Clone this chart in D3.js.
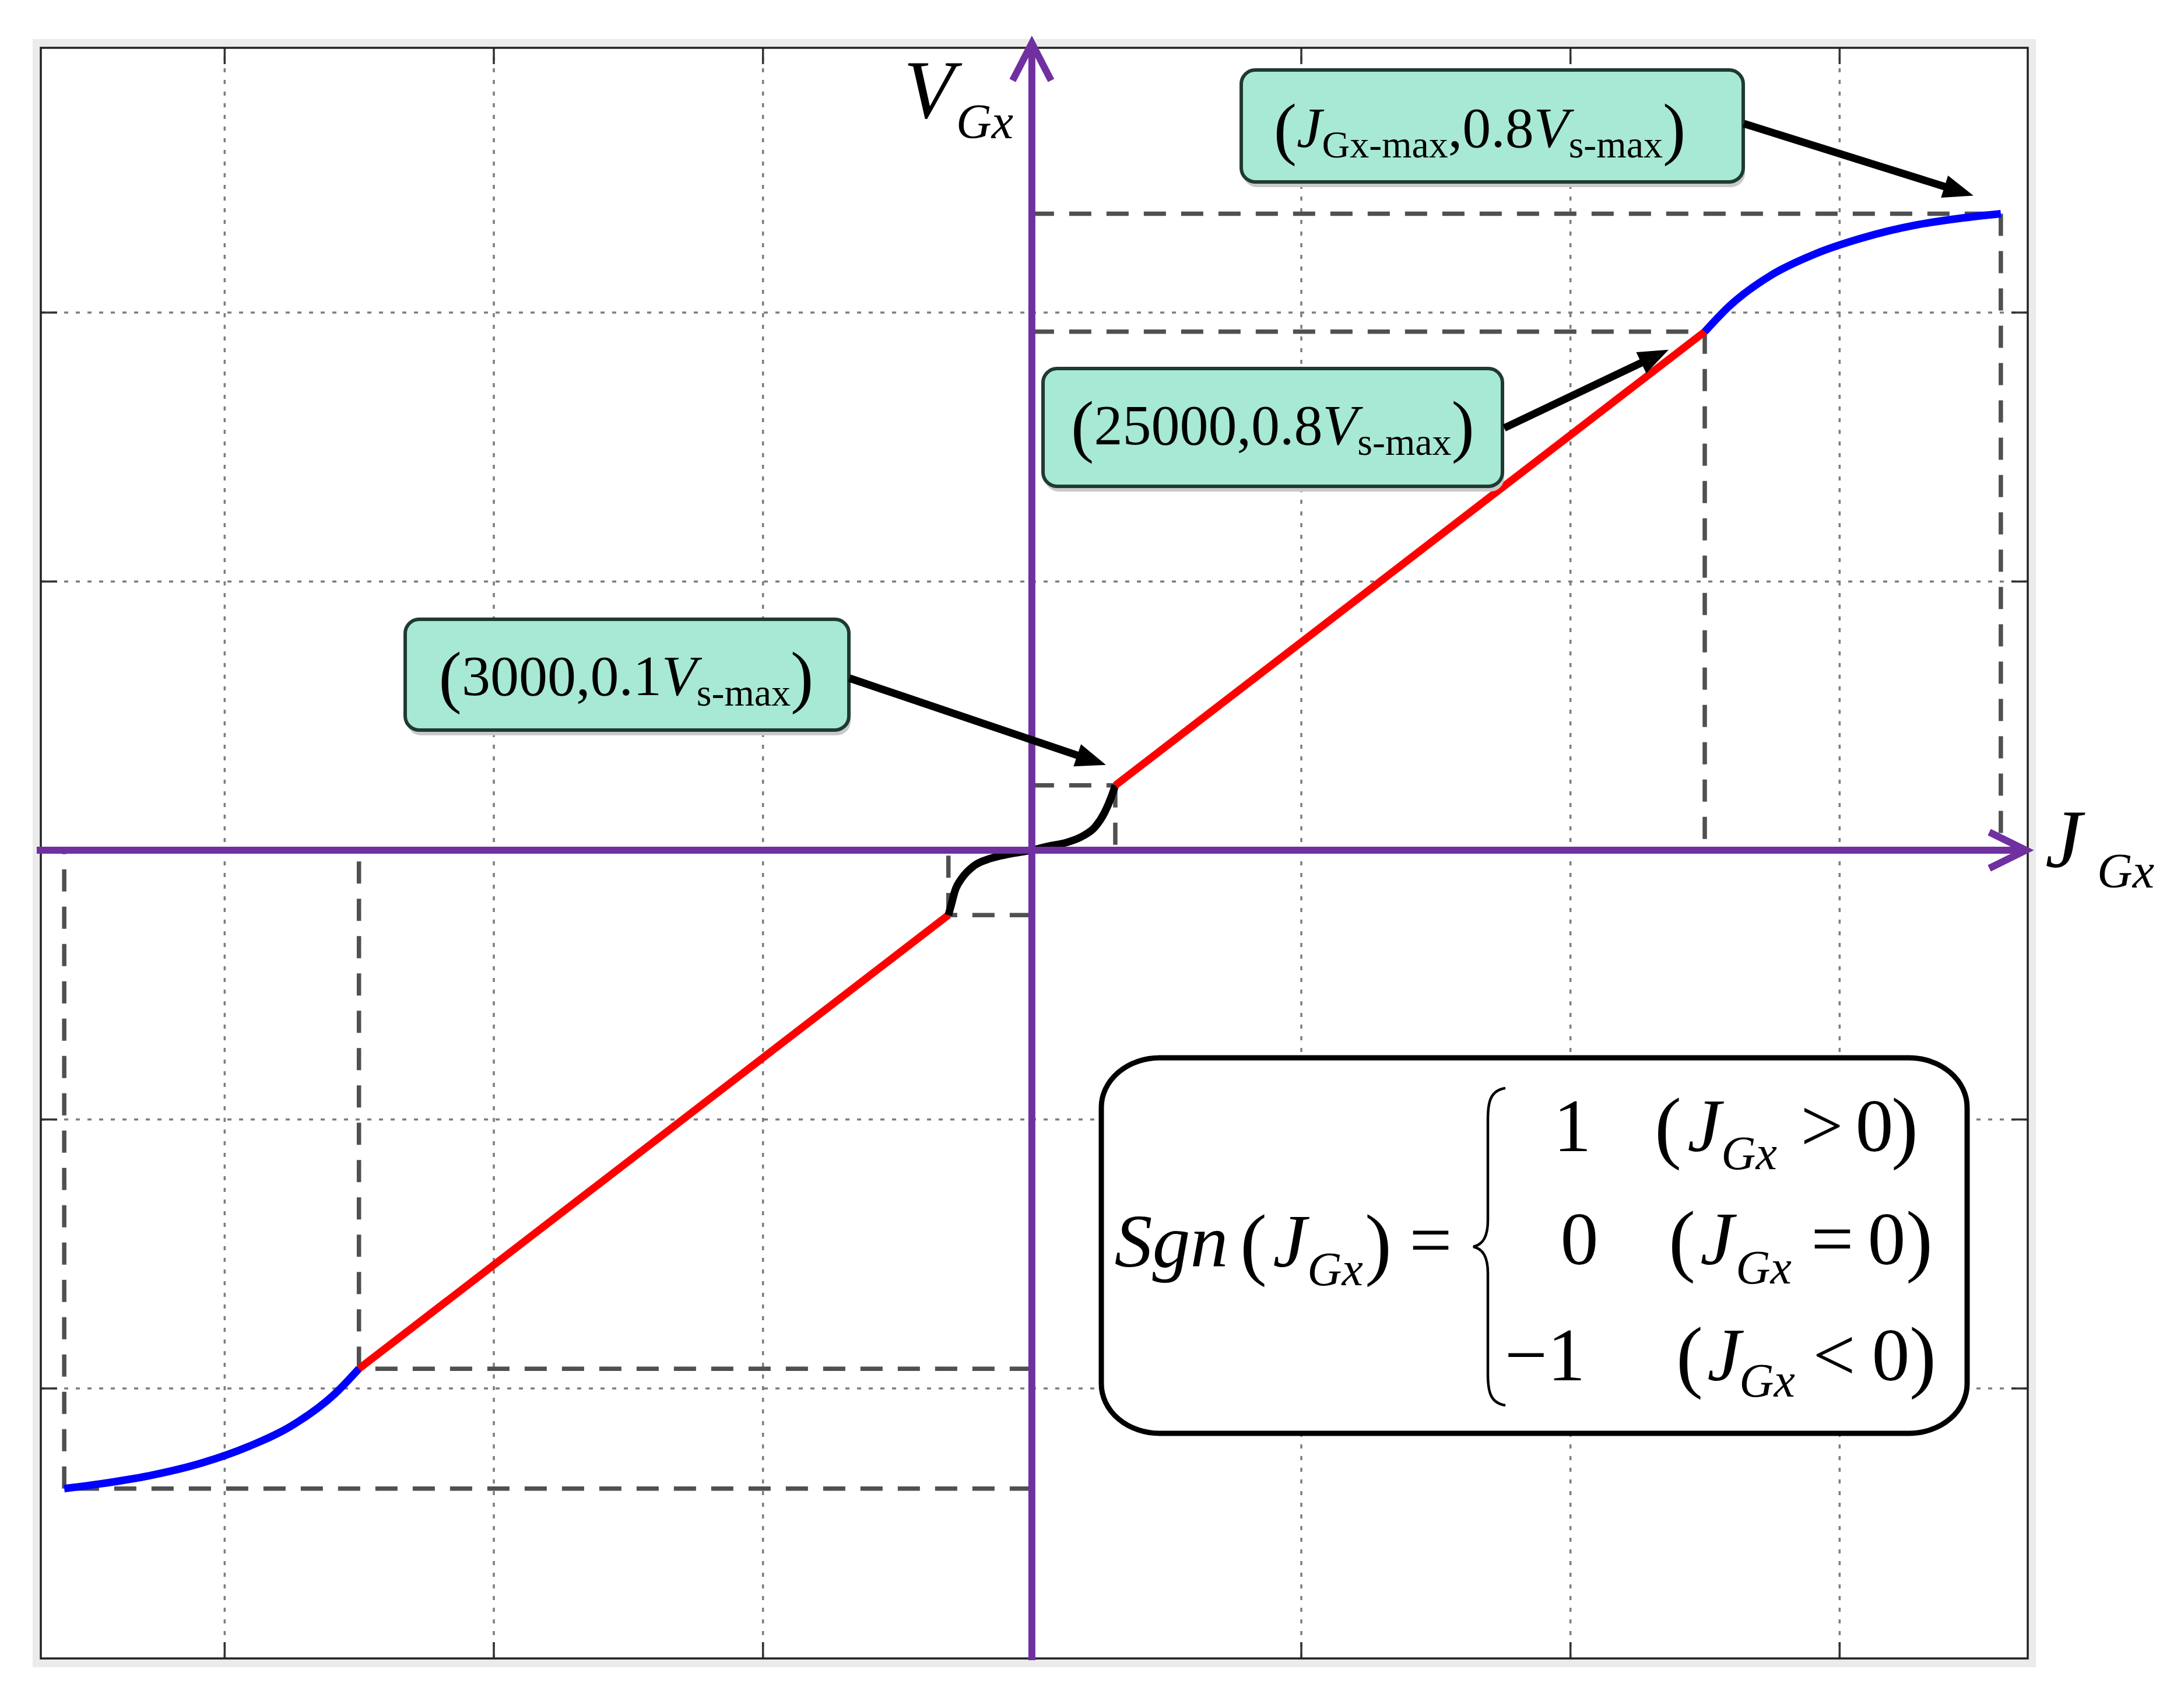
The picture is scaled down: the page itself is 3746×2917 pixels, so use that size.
<!DOCTYPE html>
<html>
<head>
<meta charset="utf-8">
<script src="https://cdn.jsdelivr.net/npm/d3@7"></script>
<style>
  html, body { margin: 0; padding: 0; background: #fff; }
  svg { display: block; }
  text { font-family: "Liberation Serif", "Times New Roman", serif; fill: #000; }
</style>
</head>
<body>
<div id="chart"></div>
<script>
var w = 3746, h = 2917;

// *** DATA (J in A/m^2, V as a fraction of Vs-max) ***
var gridJ = [-30000, -20000, -10000, 10000, 20000, 30000];
var gridV = [-0.83, -0.415, 0.415, 0.83];

// corner points: (3000, 0.1Vs), (25000, 0.8Vs), (JGx-max, Vs)
var knotJ = [3100, 25000, 36000];
var knotV = [0.1, 0.8, 0.982];
var knotNegJ = [-3100, -25000, -35950];
var knotNegV = [-0.1, -0.8, -0.985];

// small-signal region near zero (black)
var deadJ = [-3100, -3000, -2850, -2580, -2150, -1560, -850, 0, 600, 1300, 1900, 2350, 2700, 2950, 3100];
var deadV = [-0.1, -0.085, -0.062, -0.042, -0.024, -0.013, -0.006, 0, 0.006, 0.012, 0.022, 0.036, 0.058, 0.082, 0.1];

// linear region (red)
var linPosJ = [3100, 25000], linPosV = [0.1, 0.8];
var linNegJ = [-25000, -3100], linNegV = [-0.8, -0.1];

// saturation region (blue)
var satPosJ = [25000, 25900, 27500, 29100, 30800, 32900, 34500, 36000];
var satPosV = [0.8, 0.839, 0.888, 0.920, 0.944, 0.965, 0.975, 0.982];
var satNegJ = [-35950, -34500, -32900, -30800, -29100, -27500, -25900, -25000];
var satNegV = [-0.985, -0.977, -0.966, -0.945, -0.920, -0.888, -0.839, -0.8];
// ***************************************************

var frame = {l: 70, r: 3478, t: 82, b: 2844};
var purple = "#7030a0";

var x = d3.scaleLinear().domain([-36820, 37000]).range([frame.l, frame.r]);
var y = d3.scaleLinear().domain([-1.247, 1.238]).range([frame.b, frame.t]);

function zip(a, b) { return a.map(function(v, i) { return [v, b[i]]; }); }

var svg = d3.select("#chart").append("svg")
    .attr("width", w)
    .attr("height", h);
svg.append("rect").attr("width", w).attr("height", h).attr("fill", "#fff");

// light outer border + frame
svg.append("rect")
    .attr("x", frame.l - 7).attr("y", frame.t - 8)
    .attr("width", frame.r - frame.l + 14).attr("height", frame.b - frame.t + 16)
    .attr("fill", "none").attr("stroke", "#ebebeb").attr("stroke-width", 14);

// dotted grid
var grid = svg.append("g").attr("class", "grid");
grid.append("g")
    .attr("transform", "translate(0," + frame.b + ")")
    .call(d3.axisBottom(x).tickValues(gridJ).tickSize(-(frame.b - frame.t)).tickFormat(""));
grid.append("g")
    .attr("transform", "translate(" + frame.l + ",0)")
    .call(d3.axisLeft(y).tickValues(gridV).tickSize(-(frame.r - frame.l)).tickFormat(""));
grid.selectAll(".domain").remove();
grid.selectAll("line")
    .attr("stroke", "#7d7d7d").attr("stroke-width", 3.5).attr("stroke-dasharray", "7,13");

// inward ticks on the frame
var ticks = svg.append("g").attr("class", "ticks");
ticks.append("g").attr("transform", "translate(0," + frame.b + ")")
    .call(d3.axisBottom(x).tickValues(gridJ).tickSize(-28).tickFormat(""));
ticks.append("g").attr("transform", "translate(0," + frame.t + ")")
    .call(d3.axisTop(x).tickValues(gridJ).tickSize(-28).tickFormat(""));
ticks.append("g").attr("transform", "translate(" + frame.l + ",0)")
    .call(d3.axisLeft(y).tickValues(gridV).tickSize(-28).tickFormat(""));
ticks.append("g").attr("transform", "translate(" + frame.r + ",0)")
    .call(d3.axisRight(y).tickValues(gridV).tickSize(-28).tickFormat(""));
ticks.selectAll(".domain").remove();
ticks.selectAll("line").attr("stroke", "#333").attr("stroke-width", 3.5);

svg.append("rect")
    .attr("x", frame.l).attr("y", frame.t)
    .attr("width", frame.r - frame.l).attr("height", frame.b - frame.t)
    .attr("fill", "none").attr("stroke", "#222").attr("stroke-width", 3.5);

// dashed guide lines from each corner point to the axes
var knots = zip(knotJ, knotV).concat(zip(knotNegJ, knotNegV));
var guides = svg.append("g")
    .attr("stroke", "#505050").attr("stroke-width", 7.5).attr("stroke-dasharray", "38,26");
guides.selectAll(".gh").data(knots).enter().append("line")
    .attr("class", "gh")
    .attr("x1", x(0)).attr("x2", function(d) { return x(d[0]); })
    .attr("y1", function(d) { return y(d[1]); }).attr("y2", function(d) { return y(d[1]); });
guides.selectAll(".gv").data(knots).enter().append("line")
    .attr("class", "gv")
    .attr("x1", function(d) { return x(d[0]); }).attr("x2", function(d) { return x(d[0]); })
    .attr("y1", function(d) { return y(d[1]); }).attr("y2", y(0));

// the characteristic curve
var line = d3.line()
    .x(function(d) { return x(d[0]); })
    .y(function(d) { return y(d[1]); })
    .curve(d3.curveMonotoneX);

var segments = [
  {pts: zip(satNegJ, satNegV), color: "#0000ff"},
  {pts: zip(linNegJ, linNegV), color: "#ff0000"},
  {pts: zip(deadJ, deadV), color: "#000000"},
  {pts: zip(linPosJ, linPosV), color: "#ff0000"},
  {pts: zip(satPosJ, satPosV), color: "#0000ff"}
];
svg.selectAll(".seg").data(segments).enter().append("path")
    .attr("class", "seg")
    .attr("fill", "none")
    .attr("stroke", function(d) { return d.color; })
    .attr("stroke-width", 13)
    .attr("d", function(d) { return line(d.pts); });

// purple axes with open arrow heads
var x0 = x(0), y0 = y(0);
var axes = svg.append("g")
    .attr("stroke", purple).attr("stroke-width", 12).attr("fill", "none");
axes.append("line").attr("x1", frame.l - 7).attr("x2", frame.r - 6).attr("y1", y0).attr("y2", y0);
axes.append("line").attr("x1", x0).attr("x2", x0).attr("y1", frame.b + 3).attr("y2", frame.t - 4);
axes.append("polyline")
    .attr("points", [[frame.r - 66, y0 - 31], [frame.r - 3, y0], [frame.r - 66, y0 + 31]].join(" "));
axes.append("polyline")
    .attr("points", [[x0 - 33, frame.t + 56], [x0, frame.t - 8], [x0 + 33, frame.t + 56]].join(" "));

// axis labels
var vLab = svg.append("text").attr("x", 1550).attr("y", 202).style("font-style", "italic");
vLab.append("tspan").style("font-size", "142px").text("V");
vLab.append("tspan").attr("x", 1640).attr("y", 237).style("font-size", "84px").text("Gx");
var jLab = svg.append("text").attr("x", 3508).attr("y", 1487).style("font-style", "italic");
jLab.append("tspan").style("font-size", "142px").text("J");
jLab.append("tspan").attr("x", 3597).attr("y", 1522).style("font-size", "84px").text("Gx");

// callout boxes
function richText(g, cx, base, parts) {
  var t = g.append("text").attr("x", cx).attr("y", base)
      .attr("text-anchor", "middle").style("font-size", "98px");
  var shift = 0;
  parts.forEach(function(p) {
    var target = p.sub ? 18 : (p.paren ? 8 : 0);
    t.append("tspan")
        .attr("dy", target - shift)
        .style("font-size", p.sub ? "66px" : (p.paren ? "118px" : "98px"))
        .style("font-style", p.it ? "italic" : "normal")
        .text(p.t);
    shift = target;
  });
}

function arrow(g, x1, y1, x2, y2) {
  var dx = x2 - x1, dy = y2 - y1, len = Math.sqrt(dx * dx + dy * dy);
  var ux = dx / len, uy = dy / len, head = 52, half = 20;
  var bx = x2 - ux * head, by = y2 - uy * head;
  g.append("line").attr("x1", x1).attr("y1", y1).attr("x2", bx + ux * 6).attr("y2", by + uy * 6)
      .attr("stroke", "#000").attr("stroke-width", 13);
  g.append("polygon")
      .attr("points", [[x2, y2], [bx - uy * half, by + ux * half], [bx + uy * half, by - ux * half]].join(" "))
      .attr("fill", "#000");
}

var callouts = [
  {box: [2129, 120, 861, 192], cx: 2538, base: 252, from: [2991, 212], to: [knotJ[2], knotV[2]], off: [-47, -31],
   parts: [{t: "(", paren: 1}, {t: "J", it: 1}, {t: "Gx-max", sub: 1}, {t: ","}, {t: "0.8"}, {t: "V", it: 1}, {t: "s-max", sub: 1}, {t: ")", paren: 1}]},
  {box: [1789, 632, 788, 202], cx: 2183, base: 762, from: [2580, 734], to: [knotJ[1], knotV[1]], off: [-62, 31],
   parts: [{t: "(", paren: 1}, {t: "25000,0.8"}, {t: "V", it: 1}, {t: "s-max", sub: 1}, {t: ")", paren: 1}]},
  {box: [695, 1062, 761, 190], cx: 1074, base: 1192, from: [1457, 1163], to: [knotJ[0], knotV[0]], off: [-16, -35],
   parts: [{t: "(", paren: 1}, {t: "3000,0.1"}, {t: "V", it: 1}, {t: "s-max", sub: 1}, {t: ")", paren: 1}]}
];

var notes = svg.append("g");
callouts.forEach(function(c) {
  var b = c.box;
  notes.append("rect").attr("x", b[0] + 3).attr("y", b[1] + 9).attr("width", b[2]).attr("height", b[3])
      .attr("rx", 24).attr("fill", "#c9c9c9");
  notes.append("rect").attr("x", b[0]).attr("y", b[1]).attr("width", b[2]).attr("height", b[3])
      .attr("rx", 24).attr("fill", "#a7e9d4").attr("stroke", "#1f3a33").attr("stroke-width", 6);
  richText(notes, c.cx, c.base, c.parts);
  arrow(notes, c.from[0], c.from[1], x(c.to[0]) + c.off[0], y(c.to[1]) + c.off[1]);
});

// Sgn definition box
var eq = svg.append("g");
eq.append("rect").attr("x", 1889).attr("y", 1814).attr("width", 1485).attr("height", 644)
    .attr("rx", 100).attr("ry", 85)
    .attr("fill", "#fff").attr("stroke", "#000").attr("stroke-width", 9);

var glyphs = [
  {t: "Sgn", cx: 2009, by: 2172, s: 130, it: 1},
  {t: "(", cx: 2150, by: 2178, s: 138},
  {t: "J", cx: 2212, by: 2172, s: 130, it: 1},
  {t: "Gx", cx: 2290, by: 2204, s: 82, it: 1},
  {t: ")", cx: 2364, by: 2178, s: 138},
  {t: "=", cx: 2454, by: 2170, s: 130},
  {t: "1", cx: 2697, by: 1974, s: 130},
  {t: "0", cx: 2709, by: 2168, s: 130},
  {t: "\u22121", cx: 2650, by: 2367, s: 130},
  {t: "(", cx: 2861, by: 1978, s: 138},
  {t: "J", cx: 2923, by: 1974, s: 130, it: 1},
  {t: "Gx", cx: 3000, by: 2005, s: 82, it: 1},
  {t: ">", cx: 3125, by: 1974, s: 130},
  {t: "0", cx: 3215, by: 1974, s: 130},
  {t: ")", cx: 3267, by: 1978, s: 138},
  {t: "(", cx: 2885, by: 2172, s: 138},
  {t: "J", cx: 2945, by: 2168, s: 130, it: 1},
  {t: "Gx", cx: 3025, by: 2201, s: 82, it: 1},
  {t: "=", cx: 3143, by: 2168, s: 130},
  {t: "0", cx: 3236, by: 2168, s: 130},
  {t: ")", cx: 3292, by: 2172, s: 138},
  {t: "(", cx: 2898, by: 2371, s: 138},
  {t: "J", cx: 2957, by: 2367, s: 130, it: 1},
  {t: "Gx", cx: 3031, by: 2395, s: 82, it: 1},
  {t: "<", cx: 3146, by: 2367, s: 130},
  {t: "0", cx: 3243, by: 2367, s: 130},
  {t: ")", cx: 3298, by: 2371, s: 138}
];
eq.selectAll(".gl").data(glyphs).enter().append("text")
    .attr("class", "gl")
    .attr("x", function(d) { return d.cx; })
    .attr("y", function(d) { return d.by; })
    .attr("text-anchor", "middle")
    .style("font-size", function(d) { return d.s + "px"; })
    .style("font-style", function(d) { return d.it ? "italic" : "normal"; })
    .text(function(d) { return d.t; });

// curly brace
eq.append("path")
    .attr("d", "M2582,1866 C2556,1870 2552,1890 2552,1920 L2552,2092 C2552,2120 2544,2134 2527,2138" +
               " C2544,2142 2552,2156 2552,2184 L2552,2356 C2552,2386 2556,2406 2582,2410")
    .attr("fill", "none").attr("stroke", "#000").attr("stroke-width", 4.5);
</script>
</body>
</html>
